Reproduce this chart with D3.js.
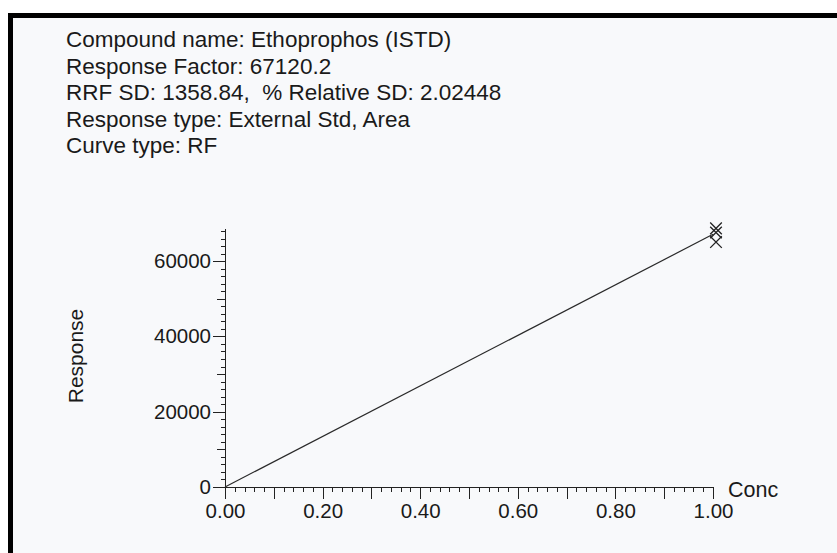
<!DOCTYPE html>
<html>
<head>
<meta charset="utf-8">
<title>Ethoprophos calibration</title>
<script src="https://d3js.org/d3.v7.min.js"></script>
<style>
body { margin: 0; background: #fff; }
svg { display: block; font-family: "Liberation Sans", Arial, sans-serif; }
svg text { white-space: pre; }
.axis path, .axis line { stroke: #222; fill: none; shape-rendering: crispEdges; }
.axis text { fill: #1a1a1a; font-size: 20.5px; font-family: "Liberation Sans", Arial, sans-serif; }
</style>
</head>
<body>
<svg width="837" height="553"></svg>
<script>
// header text lines
var headerLines = [
  "Compound name: Ethoprophos (ISTD)",
  "Response Factor: 67120.2",
  "RRF SD: 1358.84,  % Relative SD: 2.02448",
  "Response type: External Std, Area",
  "Curve type: RF"
];

// calibration points (conc, response)
var concValues = [1.00, 1.00, 1.00];
var responseValues = [68700, 67600, 65060];
var responseFactor = 67120.2;

var xLabelTicks = [0, 0.2, 0.4, 0.6, 0.8, 1.0];
var yLabelTicks = [0, 20000, 40000, 60000];

var svg = d3.select("svg");

// paper + scanned frame
svg.append("rect").attr("x", 8).attr("y", 13).attr("width", 829).attr("height", 540).attr("fill", "#f8f9fb");
svg.append("rect").attr("x", 8).attr("y", 13).attr("width", 829).attr("height", 5).attr("fill", "#000");
svg.append("rect").attr("x", 8).attr("y", 13).attr("width", 5).attr("height", 540).attr("fill", "#000");

svg.append("g").selectAll("text").data(headerLines).enter().append("text")
    .attr("x", 66)
    .attr("y", function(d, i) { return 47 + i * 26.5; })
    .attr("font-size", "22.5px")
    .attr("fill", "#1a1a1a")
    .text(function(d) { return d; });

var x = d3.scaleLinear().domain([0, 1]).range([225, 713]);
var y = d3.scaleLinear().domain([0, 68800]).range([487, 228]);

var xMinor = d3.range(0, 51).map(function(i) { return i / 50; }).filter(function(v) { return Math.round(v * 50) % 5 !== 0; });
var xMajor = d3.range(0, 11).map(function(i) { return i / 10; });
var yMinor = d3.range(0, 68001, 2000).filter(function(v) { return v % 10000 !== 0; });
var yMajor = d3.range(0, 68001, 10000).filter(function(v) { return v % 20000 !== 0; });

// x axis
svg.append("g").attr("class", "axis").attr("transform", "translate(0,487)")
    .call(d3.axisBottom(x).tickValues(xMinor).tickSize(5).tickFormat(""));
svg.append("g").attr("class", "axis").attr("transform", "translate(0,487)")
    .call(d3.axisBottom(x).tickValues(xMajor).tickSize(12).tickSizeOuter(0).tickFormat(""));
svg.append("g").attr("class", "axis").attr("transform", "translate(0,487)")
    .call(d3.axisBottom(x).tickValues(xLabelTicks).tickSize(12).tickPadding(4).tickSizeOuter(0).tickFormat(d3.format(".2f")))
    .call(function(g) { g.select(".domain").remove(); });

// y axis
svg.append("g").attr("class", "axis").attr("transform", "translate(225,0)")
    .call(d3.axisLeft(y).tickValues(yMinor).tickSize(4).tickSizeOuter(0).tickFormat(""));
svg.append("g").attr("class", "axis").attr("transform", "translate(225,0)")
    .call(d3.axisLeft(y).tickValues(yMajor).tickSize(8).tickSizeOuter(0).tickFormat(""))
    .call(function(g) { g.select(".domain").remove(); });
svg.append("g").attr("class", "axis").attr("transform", "translate(225,0)")
    .call(d3.axisLeft(y).tickValues(yLabelTicks).tickSize(12).tickPadding(2).tickSizeOuter(0).tickFormat(d3.format("d")))
    .call(function(g) { g.select(".domain").remove(); });

// axis titles
svg.append("text")
    .attr("x", 728).attr("y", 497)
    .attr("font-size", "21.5px").attr("fill", "#1a1a1a")
    .text("Conc");
svg.append("text")
    .attr("transform", "translate(83,356) rotate(-90)")
    .attr("text-anchor", "middle")
    .attr("font-size", "21px").attr("fill", "#1a1a1a")
    .text("Response");

// RF curve
var line = d3.line().x(function(d) { return x(d); }).y(function(d) { return y(d * responseFactor); });
svg.append("path").datum([0, 1])
    .attr("d", line)
    .attr("fill", "none")
    .attr("stroke", "#2a2a2a")
    .attr("stroke-width", 1.2);

// points
var pts = concValues.map(function(c, i) { return { conc: c, resp: responseValues[i] }; });
var sym = d3.symbol().type(d3.symbolX).size(90);
svg.append("g").selectAll("path").data(pts).enter().append("path")
    .attr("transform", function(d) { return "translate(" + (x(d.conc) + 3) + "," + y(d.resp) + ")"; })
    .attr("d", sym)
    .attr("fill", "none")
    .attr("stroke", "#222")
    .attr("stroke-width", 1.3);
</script>
</body>
</html>
